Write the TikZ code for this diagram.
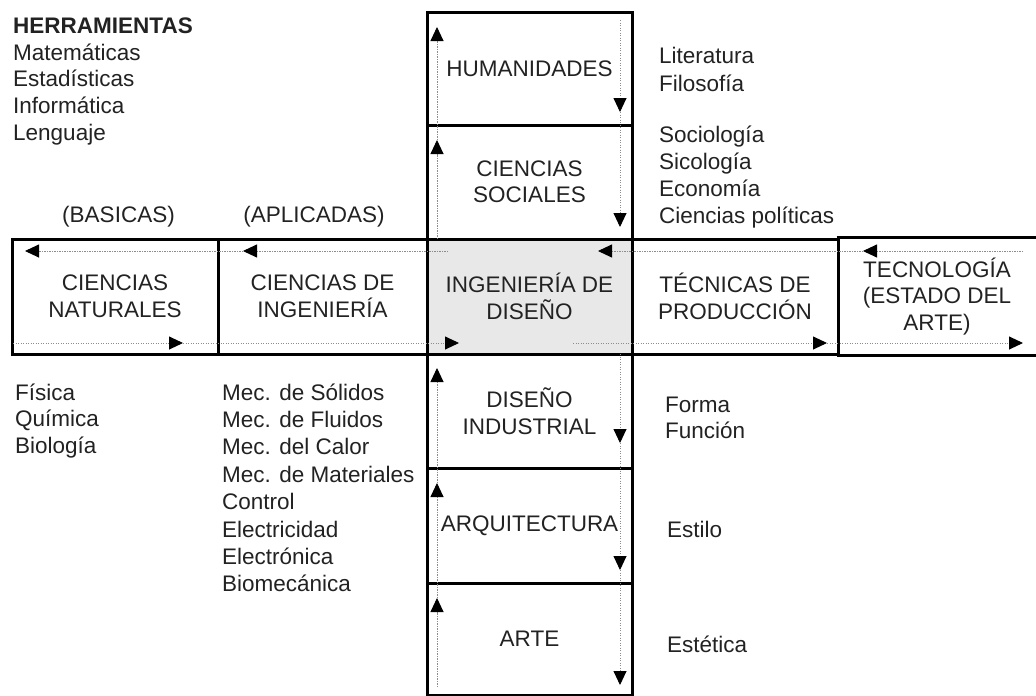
\documentclass[tikz,border=0pt]{standalone}
\usepackage{fontspec}
\setmainfont{Liberation Sans}
\usetikzlibrary{arrows.meta,calc}
\definecolor{txt}{HTML}{222222}
\definecolor{cellgray}{HTML}{E8E8E8}
\definecolor{dotgray}{HTML}{8C8C8C}
\begin{document}
\begin{tikzpicture}[x=1pt,y=-1pt,
  cell/.style={draw=black,line width=3pt,inner sep=0pt,align=center,text=txt,
               font=\fontsize{22.5}{26.5}\selectfont},
  lst/.style={anchor=base west,inner sep=0pt,align=left,text=txt},
  lbl/.style={anchor=base,inner sep=0pt,text=txt,font=\fontsize{22.5}{26.5}\selectfont},
  border/.style={line width=3pt,draw=black},
  flow/.style={draw=dotgray,line width=0.9pt,dash pattern=on 1.2pt off 1.3pt,
               -{Triangle[length=14pt,width=13pt,color=black]}}
  ]
\useasboundingbox (0,0) rectangle (1036,696);

% cells
\node[cell,minimum width=205pt,minimum height=113pt] (hum) at (529.5,68.5) {HUMANIDADES};
\node[cell,minimum width=205pt,minimum height=114pt] (soc) at (529.5,182) {CIENCIAS\\SOCIALES};
\node[cell,minimum width=206pt,minimum height=115pt] (nat) at (115,296.5) {CIENCIAS\\NATURALES};
\node[cell,minimum width=209pt,minimum height=115pt] (ing) at (322.5,296.5) {CIENCIAS DE\\INGENIERÍA};
\node[cell,fill=cellgray,minimum width=205pt,minimum height=115pt] (dis) at (529.5,296.5) {INGENIERÍA DE\\DISEÑO};
\node[cell,minimum width=206pt,minimum height=115pt] (tpr) at (735,296.5) {TÉCNICAS DE\\PRODUCCIÓN};
\node[cell,draw=none,minimum width=198pt,minimum height=115pt] (tec) at (937,296.5) {TECNOLOGÍA\\(ESTADO DEL\\ARTE)};
\draw[border] (tec.north west) -- ($(tec.north east)+(20,0)$);
\draw[border] (tec.south west) -- ($(tec.south east)+(20,0)$);
\node[cell,minimum width=205pt,minimum height=114pt] (din) at (529.5,411) {DISEÑO\\INDUSTRIAL};
\node[cell,minimum width=205pt,minimum height=115pt] (arq) at (529.5,525.5) {ARQUITECTURA};
\node[cell,minimum width=205pt,minimum height=112pt] (art) at (529.5,639) {ARTE};

% flow lines: top (leftwards)
\coordinate (tA) at (1023,251); \coordinate (tB) at (863,251);
\coordinate (tC) at (598,251);  \coordinate (tD) at (448,251);
\coordinate (tE) at (243,251);  \coordinate (tF) at (25,251);
\draw[flow] (tA) -- (tB);
\draw[flow] (tB) -- (tC);
\draw[flow] (tD) -- (tE);
\draw[flow] (tE) -- (tF);
% bottom (rightwards)
\coordinate (bA) at (13,343);  \coordinate (bB) at (183,343);
\coordinate (bC) at (459,343); \coordinate (bD) at (573,343);
\coordinate (bE) at (827,343); \coordinate (bF) at (1023,343);
\draw[flow] (bA) -- (bB);
\draw[flow] (bB) -- (bC);
\draw[flow] (bD) -- (bE);
\draw[flow] (bE) -- (bF);
% left (upwards)
\coordinate (uA) at (437,687); \coordinate (uB) at (437,598);
\coordinate (uC) at (437,483); \coordinate (uD) at (437,368);
\coordinate (uE) at (437,239); \coordinate (uF) at (437,140);
\coordinate (uG) at (437,27);
\draw[flow] (uA) -- (uB);
\draw[flow] (uB) -- (uC);
\draw[flow] (uC) -- (uD);
\draw[flow] (uE) -- (uF);
\draw[flow] (uF) -- (uG);
% right (downwards)
\coordinate (dA) at (620,20);  \coordinate (dB) at (620,112);
\coordinate (dC) at (620,227); \coordinate (dD) at (620,354);
\coordinate (dE) at (620,443); \coordinate (dF) at (620,570);
\coordinate (dG) at (620,685);
\draw[flow] (dA) -- (dB);
\draw[flow] (dB) -- (dC);
\draw[flow] (dD) -- (dE);
\draw[flow] (dE) -- (dF);
\draw[flow] (dF) -- (dG);

% lists (anchor = baseline of the last line)
\node[lst,font=\fontsize{22.5}{26.7}\selectfont] (herr) at (13,140.1)
  {\textbf{HERRAMIENTAS}\\Matemáticas\\Estadísticas\\Informática\\Lenguaje};
\node[lst,font=\fontsize{22.5}{28}\selectfont] (lhum) at (659,91) {Literatura\\Filosofía};
\node[lst,font=\fontsize{22.5}{26.7}\selectfont] (lsoc) at (659,223)
  {Sociología\\Sicología\\Economía\\Ciencias políticas};
\node[lbl] (bas) at (118.5,222) {(BASICAS)};
\node[lbl] (apl) at (314,222) {(APLICADAS)};
\node[lst,font=\fontsize{22.5}{26.5}\selectfont] (lnat) at (15,453) {Física\\Química\\Biología};
\node[lst,font=\fontsize{22.5}{27.4}\selectfont] (ling) at (222,591.8)
  {Mec. de Sólidos\\Mec. de Fluidos\\Mec. del Calor\\Mec. de Materiales\\Control\\Electricidad\\Electrónica\\Biomecánica};
\node[lst,font=\fontsize{22.5}{26}\selectfont] (ldin) at (665,438) {Forma\\Función};
\node[lst,font=\fontsize{22.5}{26}\selectfont] (larq) at (667,537) {Estilo};
\node[lst,font=\fontsize{22.5}{26}\selectfont] (lart) at (667,652) {Estética};
\end{tikzpicture}
\end{document}
